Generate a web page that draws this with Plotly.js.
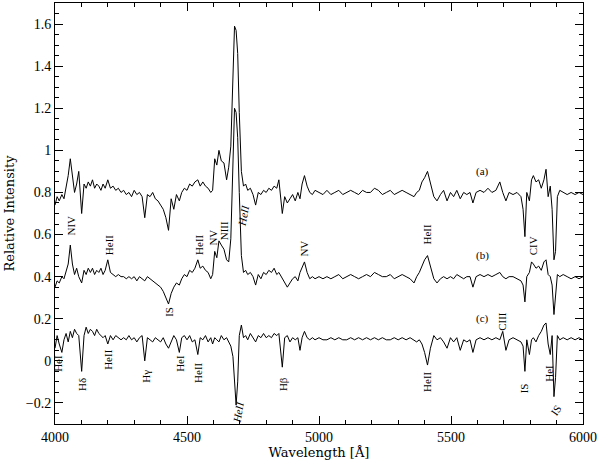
<!DOCTYPE html>
<html>
<head>
<meta charset="utf-8">
<script src="https://cdn.plot.ly/plotly-3.0.1.min.js"></script>
<style>
  html, body { margin: 0; padding: 0; background: #fff; }
  #chart { width: 600px; height: 464px; }
</style>
</head>
<body>
<div id="chart"></div>
<script>
// wavelength grid (Angstrom), shared by the three spectra
var wave = [
  4000, 4008, 4016, 4026, 4034, 4042, 4050, 4058, 4066, 4074,
  4082, 4090, 4101, 4110, 4118, 4126, 4134, 4142, 4150, 4158,
  4166, 4174, 4182, 4190, 4200, 4210, 4220, 4230, 4240, 4250,
  4260, 4270, 4280, 4290, 4300, 4310, 4320, 4330, 4340, 4350,
  4360, 4370, 4380, 4390, 4400, 4410, 4420, 4430, 4440, 4450,
  4460, 4471, 4480, 4490, 4500, 4510, 4520, 4530, 4541, 4550,
  4560, 4570, 4580, 4590, 4597, 4605, 4613, 4621, 4630, 4640,
  4650, 4658, 4666, 4674, 4680, 4686, 4692, 4698, 4706, 4714,
  4722, 4730, 4740, 4750, 4760, 4770, 4780, 4790, 4800, 4810,
  4820, 4830, 4840, 4848, 4861, 4870, 4880, 4890, 4900, 4910,
  4920, 4928, 4936, 4945, 4955, 4965, 4975, 4985, 5000, 5015,
  5030, 5045, 5060, 5075, 5090, 5105, 5120, 5135, 5150, 5165,
  5180, 5195, 5210, 5225, 5240, 5255, 5270, 5285, 5300, 5315,
  5330, 5345, 5360, 5370, 5380, 5390, 5400, 5411, 5422, 5435,
  5447, 5460, 5472, 5485, 5498, 5510, 5522, 5535, 5548, 5560,
  5572, 5583, 5595, 5610, 5625, 5640, 5655, 5670, 5685, 5696,
  5708, 5720, 5735, 5750, 5765, 5773, 5780, 5787, 5797, 5805,
  5812, 5822, 5832, 5842, 5852, 5860, 5868, 5876, 5883, 5890,
  5896, 5903, 5912, 5925, 5940, 5955, 5970, 5985, 6000
];

// spectrum (a)
var fluxA = [
  0.74, 0.78, 0.76, 0.79, 0.77, 0.82, 0.88, 0.96, 0.88, 0.80,
  0.84, 0.90, 0.70, 0.84, 0.82, 0.85, 0.83, 0.86, 0.82, 0.84,
  0.83, 0.81, 0.84, 0.82, 0.86, 0.82, 0.83, 0.81, 0.82, 0.80,
  0.81, 0.79, 0.80, 0.78, 0.81, 0.79, 0.80, 0.78, 0.68, 0.79,
  0.78, 0.80, 0.77, 0.76, 0.74, 0.72, 0.68, 0.62, 0.77, 0.72,
  0.79, 0.76, 0.80, 0.82, 0.81, 0.84, 0.83, 0.85, 0.86, 0.83,
  0.85, 0.83, 0.82, 0.80, 0.81, 0.96, 0.93, 1.00, 0.95, 0.94,
  0.86, 0.92, 1.02, 1.36, 1.59, 1.57, 1.46, 1.18, 0.90, 0.83,
  0.84, 0.81, 0.82, 0.79, 0.74, 0.80, 0.79, 0.81, 0.80, 0.82,
  0.81, 0.83, 0.82, 0.86, 0.70, 0.78, 0.75, 0.77, 0.79, 0.76,
  0.80, 0.77, 0.84, 0.88, 0.83, 0.80, 0.79, 0.81, 0.80, 0.79,
  0.81, 0.79, 0.80, 0.81, 0.79, 0.80, 0.81, 0.80, 0.79, 0.81,
  0.80, 0.80, 0.82, 0.81, 0.79, 0.80, 0.81, 0.79, 0.80, 0.81,
  0.80, 0.79, 0.78, 0.80, 0.81, 0.85, 0.87, 0.90, 0.84, 0.78,
  0.76, 0.79, 0.81, 0.76, 0.80, 0.78, 0.81, 0.77, 0.80, 0.79,
  0.80, 0.75, 0.80, 0.81, 0.80, 0.82, 0.80, 0.81, 0.85, 0.80,
  0.76, 0.80, 0.79, 0.80, 0.78, 0.72, 0.59, 0.80, 0.76, 0.86,
  0.88, 0.85, 0.86, 0.82, 0.86, 0.91, 0.78, 0.83, 0.72, 0.48,
  0.52, 0.78, 0.81, 0.80, 0.79, 0.80, 0.79, 0.80, 0.79
];

// spectrum (b)
var fluxB = [
  0.35, 0.38, 0.37, 0.40, 0.39, 0.42, 0.46, 0.55, 0.46, 0.41,
  0.44, 0.40, 0.37, 0.43, 0.41, 0.44, 0.42, 0.44, 0.41, 0.43,
  0.42, 0.44, 0.41, 0.43, 0.48, 0.42, 0.41, 0.40, 0.41, 0.40,
  0.40, 0.39, 0.40, 0.39, 0.40, 0.38, 0.40, 0.39, 0.38, 0.40,
  0.39, 0.38, 0.37, 0.36, 0.35, 0.33, 0.30, 0.27, 0.32, 0.35,
  0.37, 0.36, 0.39, 0.41, 0.40, 0.43, 0.42, 0.44, 0.48, 0.44,
  0.45, 0.43, 0.42, 0.39, 0.41, 0.52, 0.49, 0.57, 0.55, 0.53,
  0.48, 0.47, 0.58, 0.95, 1.20, 1.18, 1.06, 0.80, 0.50, 0.42,
  0.43, 0.41, 0.42, 0.40, 0.36, 0.41, 0.39, 0.42, 0.41, 0.43,
  0.42, 0.44, 0.41, 0.42, 0.39, 0.37, 0.35, 0.37, 0.39, 0.40,
  0.38, 0.42, 0.44, 0.47, 0.42, 0.39, 0.40, 0.39, 0.40, 0.39,
  0.40, 0.39, 0.40, 0.41, 0.39, 0.40, 0.41, 0.40, 0.39, 0.40,
  0.41, 0.40, 0.42, 0.41, 0.40, 0.40, 0.41, 0.39, 0.40, 0.41,
  0.40, 0.39, 0.37, 0.40, 0.42, 0.45, 0.48, 0.50, 0.45, 0.39,
  0.37, 0.39, 0.40, 0.39, 0.40, 0.39, 0.41, 0.40, 0.39, 0.40,
  0.40, 0.35, 0.40, 0.41, 0.40, 0.41, 0.40, 0.41, 0.42, 0.40,
  0.39, 0.40, 0.40, 0.39, 0.38, 0.36, 0.28, 0.40, 0.42, 0.47,
  0.46, 0.44, 0.45, 0.43, 0.47, 0.48, 0.41, 0.40, 0.36, 0.22,
  0.30, 0.41, 0.40, 0.41, 0.40, 0.39, 0.40, 0.39, 0.40
];

// spectrum (c)
var fluxC = [
  0.06, 0.12, 0.08, 0.04, 0.10, 0.13, 0.09, 0.14, 0.11, 0.15,
  0.13, 0.12, -0.05, 0.12, 0.16, 0.13, 0.15, 0.14, 0.12, 0.15,
  0.13, 0.12, 0.11, 0.12, 0.08, 0.12, 0.10, 0.12, 0.11, 0.10,
  0.11, 0.10, 0.12, 0.10, 0.11, 0.09, 0.11, 0.12, 0.00, 0.11,
  0.10, 0.09, 0.11, 0.10, 0.09, 0.11, 0.08, 0.06, 0.09, 0.12,
  0.10, 0.04, 0.11, 0.12, 0.10, 0.12, 0.09, 0.10, 0.03, 0.11,
  0.10, 0.12, 0.09, 0.11, 0.08, 0.11, 0.10, 0.09, 0.12, 0.10,
  0.11, 0.09, 0.07, 0.02, -0.12, -0.21, -0.10, 0.12, 0.17, 0.11,
  0.12, 0.10, 0.13, 0.11, 0.09, 0.12, 0.11, 0.13, 0.11, 0.12,
  0.11, 0.13, 0.12, 0.13, -0.03, 0.11, 0.12, 0.09, 0.11, 0.10,
  0.11, 0.05, 0.11, 0.14, 0.11, 0.10, 0.11, 0.10, 0.11, 0.10,
  0.10, 0.11, 0.10, 0.11, 0.10, 0.10, 0.11, 0.10, 0.11, 0.10,
  0.11, 0.10, 0.11, 0.10, 0.11, 0.10, 0.10, 0.11, 0.10, 0.11,
  0.10, 0.11, 0.10, 0.09, 0.10, 0.08, 0.04, -0.02, 0.06, 0.12,
  0.10, 0.11, 0.09, 0.06, 0.11, 0.09, 0.11, 0.05, 0.10, 0.09,
  0.10, 0.04, 0.10, 0.11, 0.10, 0.11, 0.10, 0.11, 0.10, 0.14,
  0.05, 0.10, 0.11, 0.10, 0.09, 0.07, -0.05, 0.10, 0.03, 0.10,
  0.11, 0.09, 0.12, 0.14, 0.17, 0.18, 0.08, 0.03, 0.12, -0.17,
  -0.08, 0.12, 0.10, 0.11, 0.10, 0.11, 0.10, 0.11, 0.10
];

// line identifications: text, wavelength, intensity, angle
var lineText  = ['NIV', 'HeII', 'HeII', 'NV', 'NIII', '<i>HeII</i>', 'NV', 'HeII', 'CIV', 'IS', 'CIII',
                 'HeI', 'Hδ', 'HeII', 'Hγ', 'HeI', 'HeII', '<i>HeII</i>', 'Hβ', 'HeII', 'IS', 'HeI', 'IS'];
var lineWave  = [4057, 4205, 4545, 4598, 4640, 4712, 4943, 5409, 5810, 4432, 5693,
                 4011, 4102, 4201, 4345, 4473, 4542, 4694, 4864, 5409, 5777, 5871, 5898];
var lineLevel = [0.643, 0.55, 0.55, 0.585, 0.62, 0.69, 0.533, 0.60, 0.548, 0.233, 0.19,
                 -0.01, -0.11, 0.005, -0.075, -0.01, -0.057, -0.243, -0.11, -0.10, -0.13, -0.057, -0.233];
var lineAngle = [-90, -90, -90, -90, -90, -80, -90, -90, -90, -90, -90,
                 -90, -90, -90, -90, -90, -90, -80, -90, -90, -90, -90, -55];

var seriesTags = ['(a)', '(b)', '(c)'];
var tagWave = [5621, 5621, 5621];
var tagLevel = [0.90, 0.50, 0.20];

var lineStyle = {color: '#000', width: 1};
var data = [fluxA, fluxB, fluxC].map(function (f) {
  return {x: wave, y: f, type: 'scatter', mode: 'lines', line: lineStyle, hoverinfo: 'skip'};
});

var annotations = lineText.map(function (t, i) {
  return {
    x: lineWave[i], y: lineLevel[i], xref: 'x', yref: 'y',
    text: t, textangle: lineAngle[i], showarrow: false,
    font: {family: 'Liberation Serif', size: 11, color: '#000'}
  };
});
seriesTags.forEach(function (t, i) {
  annotations.push({
    x: tagWave[i], y: tagLevel[i], xref: 'x', yref: 'y',
    text: t, showarrow: false,
    font: {family: 'Liberation Serif', size: 11, color: '#000'}
  });
});

var axisCommon = {
  showline: true, linecolor: '#000', linewidth: 1, mirror: 'allticks',
  ticks: 'inside', ticklen: 8, tickcolor: '#000', tickwidth: 1,
  showgrid: false, zeroline: false,
  tickfont: {family: 'Liberation Serif', size: 14, color: '#000'}
};

var layout = {
  width: 600, height: 464,
  margin: {l: 55, r: 17, t: 3, b: 40},
  paper_bgcolor: '#fff', plot_bgcolor: '#fff',
  showlegend: false,
  xaxis: Object.assign({}, axisCommon, {
    range: [4000, 6000], tick0: 4000, dtick: 500,
    minor: {ticks: 'inside', dtick: 100, ticklen: 4, tickcolor: '#000'},
    title: {text: 'Wavelength [Å]', standoff: 0, font: {family: 'DejaVu Serif', size: 13, color: '#000'}}
  }),
  yaxis: Object.assign({}, axisCommon, {
    range: [-0.3, 1.7], tick0: 0, dtick: 0.2,
    minor: {ticks: 'inside', dtick: 0.05, ticklen: 4, tickcolor: '#000'},
    title: {text: 'Relative Intensity', standoff: 8, font: {family: 'DejaVu Serif', size: 13, color: '#000'}}
  }),
  annotations: annotations
};

Plotly.newPlot('chart', data, layout, {displayModeBar: false, staticPlot: true});
</script>
</body>
</html>
